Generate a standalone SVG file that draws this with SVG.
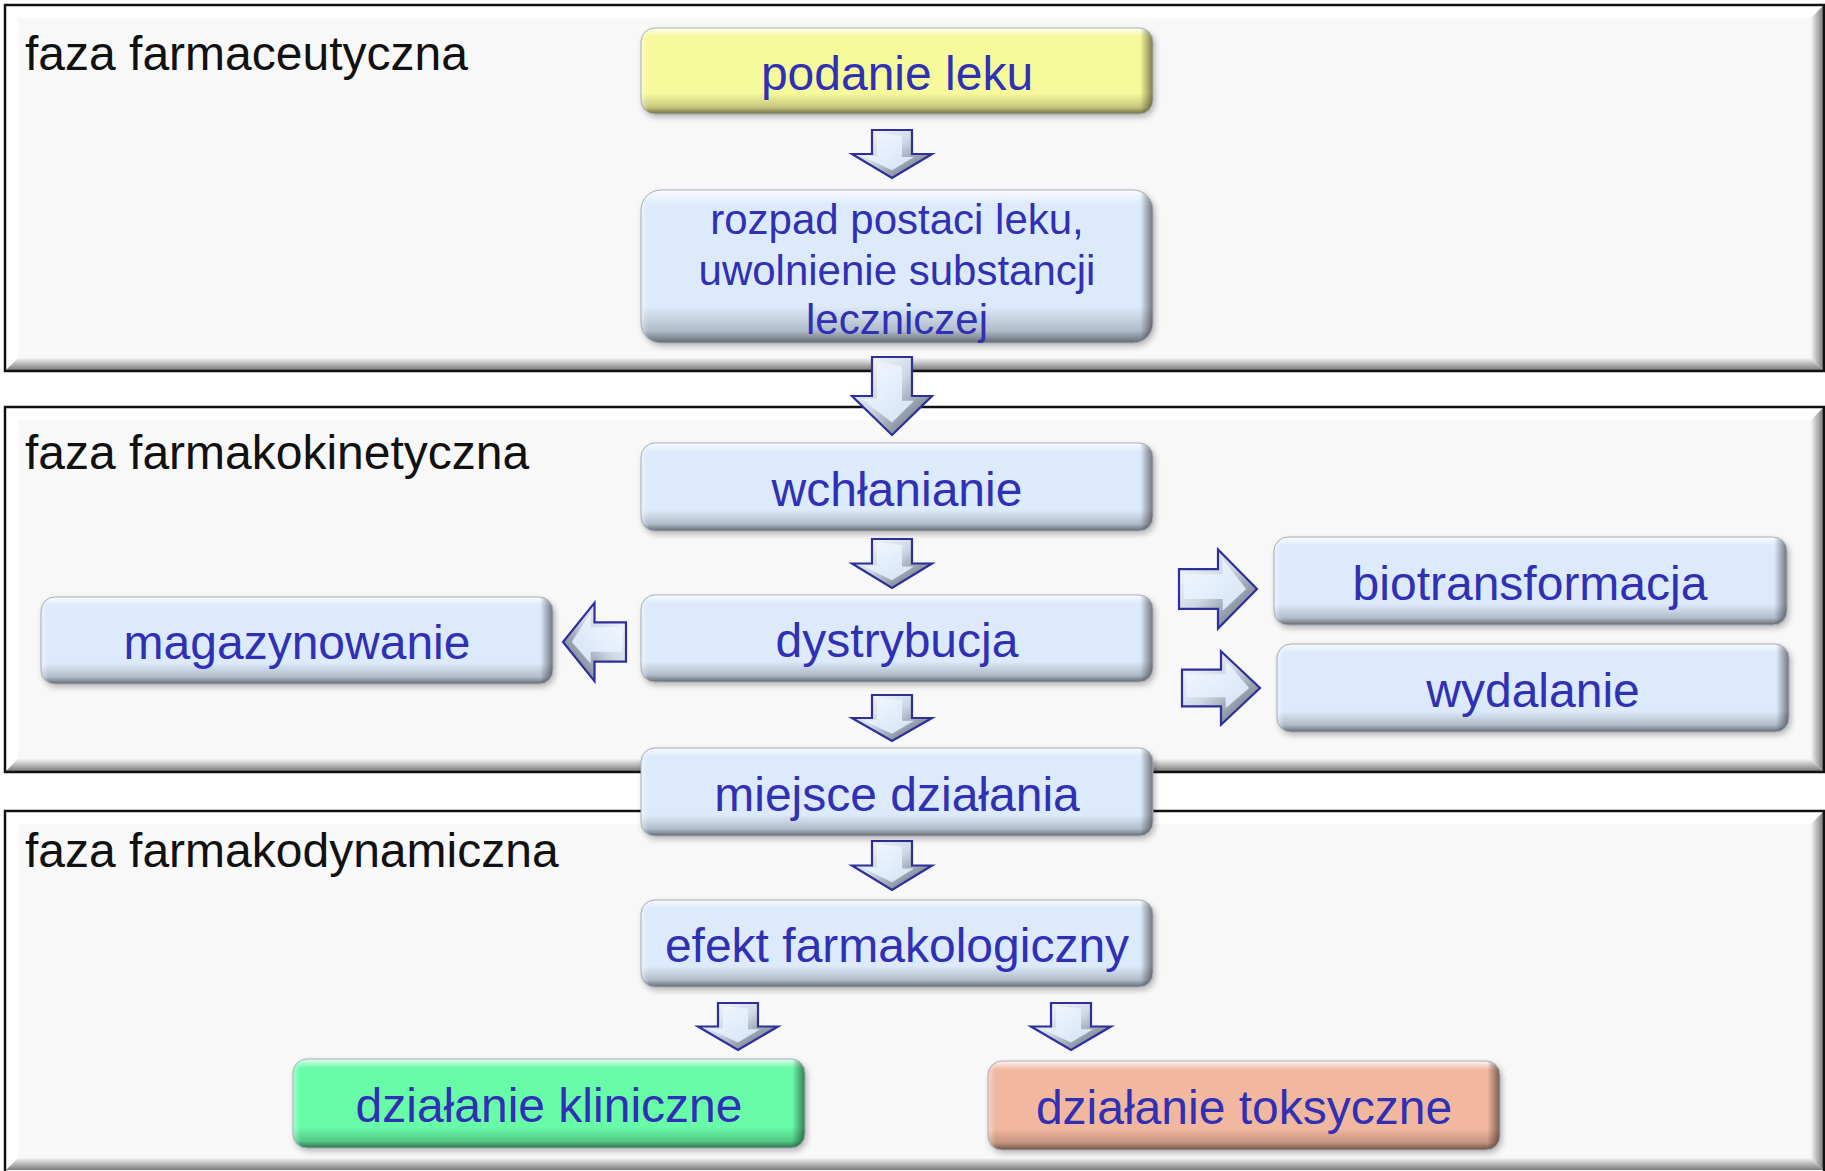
<svg xmlns="http://www.w3.org/2000/svg" width="1825" height="1171" viewBox="0 0 1825 1171">
<defs>
<style>
.lbl{font-family:"Liberation Sans",Arial,sans-serif;font-size:48px;fill:#111;}
.nt{font-family:"Liberation Sans",Arial,sans-serif;font-size:48px;fill:#3030b4;text-anchor:middle;}
.nt2{font-family:"Liberation Sans",Arial,sans-serif;font-size:42px;fill:#3030b4;text-anchor:middle;}
.pbg{fill:#f8f8f8;}
.pst{fill:none;stroke:#111;stroke-width:2.5;}
.ptop{fill:#ffffff;}
.pr{fill:url(#pR);}
.pb{fill:url(#pB);}
.base-blue{fill:#dceafb;}
.base-yel{fill:#f7f99d;}
.base-grn{fill:#68fca8;}
.base-sal{fill:#f2b79f;}
.sv{fill:url(#sV);}
.sh{fill:url(#sH);}
.nst{fill:none;stroke:#a9b0bb;stroke-width:1;}
.shadow{fill:#000;opacity:0.28;filter:url(#blur);}
.aout{fill:url(#aG);stroke:#2f2f9c;stroke-width:2.2;vector-effect:non-scaling-stroke;stroke-linejoin:miter;}
.ain{fill:url(#aI);}
</style>
<filter id="blur" x="-10%" y="-10%" width="120%" height="130%"><feGaussianBlur stdDeviation="3"/></filter>
<linearGradient id="pR" x1="0" y1="0" x2="1" y2="0"><stop offset="0" stop-color="#f4f4f4"/><stop offset="1" stop-color="#7c7c7c"/></linearGradient>
<linearGradient id="pB" x1="0" y1="0" x2="0" y2="1"><stop offset="0" stop-color="#f4f4f4"/><stop offset="1" stop-color="#7c7c7c"/></linearGradient>
<linearGradient id="sV" x1="0" y1="0" x2="0" y2="1">
<stop offset="0" stop-color="#fff" stop-opacity="0.85"/>
<stop offset="0.1" stop-color="#fff" stop-opacity="0"/>
<stop offset="0.76" stop-color="#000" stop-opacity="0"/>
<stop offset="0.92" stop-color="#000" stop-opacity="0.2"/>
<stop offset="1" stop-color="#000" stop-opacity="0.55"/>
</linearGradient>
<linearGradient id="sH" x1="0" y1="0" x2="1" y2="0">
<stop offset="0" stop-color="#fff" stop-opacity="0.4"/>
<stop offset="0.015" stop-color="#fff" stop-opacity="0"/>
<stop offset="0.975" stop-color="#000" stop-opacity="0"/>
<stop offset="1" stop-color="#000" stop-opacity="0.5"/>
</linearGradient>
<linearGradient id="aG" x1="0" y1="0" x2="1" y2="1">
<stop offset="0" stop-color="#ffffff"/>
<stop offset="0.45" stop-color="#cfd8e4"/>
<stop offset="1" stop-color="#4f5866"/>
</linearGradient>
<linearGradient id="aI" x1="0" y1="0" x2="1" y2="1">
<stop offset="0" stop-color="#f4f8fe"/>
<stop offset="1" stop-color="#d4e3f7"/>
</linearGradient>
<g id="arrD">
<path class="aout" d="M-20,0 L20,0 L20,50 L40,50 L0,100 L-40,50 L-20,50 Z"/>
<path class="ain" d="M-15,6 L10,12 L10,56 L22,56 L0,84 L-30,54 L-15,54 Z"/>
</g>
<g id="arrR">
<path class="aout" d="M0,-20 L0,20 L50,20 L50,40 L100,0 L50,-40 L50,-20 Z"/>
<path class="ain" d="M6,-15 L6,10 L56,10 L56,22 L86,0 L56,-30 L56,-15 Z"/>
</g>
</defs>

<g id="panel-farmaceutyczna">
<rect class="pbg" x="5" y="5" width="1819" height="366"/>
<polygon class="ptop" points="6,6 1823,6 1811,18 18,18"/>
<polygon class="ptop" points="6,6 18,18 18,358 6,370"/>
<polygon class="pr" points="1811,18 1823,6 1823,370 1811,358"/>
<polygon class="pb" points="18,358 1811,358 1823,370 6,370"/>
<rect class="pst" x="5" y="5" width="1819" height="366"/>
<text class="lbl" x="25" y="70">faza farmaceutyczna</text>
</g>
<g id="panel-farmakokinetyczna">
<rect class="pbg" x="5" y="407" width="1819" height="365"/>
<polygon class="ptop" points="6,408 1823,408 1811,420 18,420"/>
<polygon class="ptop" points="6,408 18,420 18,759 6,771"/>
<polygon class="pr" points="1811,420 1823,408 1823,771 1811,759"/>
<polygon class="pb" points="18,759 1811,759 1823,771 6,771"/>
<rect class="pst" x="5" y="407" width="1819" height="365"/>
<text class="lbl" x="25" y="469">faza farmakokinetyczna</text>
</g>
<g id="panel-farmakodynamiczna">
<rect class="pbg" x="5" y="811" width="1819" height="360"/>
<polygon class="ptop" points="6,812 1823,812 1811,824 18,824"/>
<polygon class="ptop" points="6,812 18,824 18,1158 6,1170"/>
<polygon class="pr" points="1811,824 1823,812 1823,1170 1811,1158"/>
<polygon class="pb" points="18,1158 1811,1158 1823,1170 6,1170"/>
<rect class="pst" x="5" y="811" width="1819" height="362"/>
<text class="lbl" x="25" y="867">faza farmakodynamiczna</text>
</g>

<g id="connectors">
<use href="#arrD" transform="translate(892,130) scale(1,0.48)"/>
<use href="#arrD" transform="translate(892,357) scale(1,0.78)"/>
<use href="#arrD" transform="translate(892,539) scale(1,0.49)"/>
<use href="#arrD" transform="translate(892,695) scale(1,0.46)"/>
<use href="#arrD" transform="translate(892,841) scale(1,0.49)"/>
<use href="#arrD" transform="translate(738,1003) scale(1,0.47)"/>
<use href="#arrD" transform="translate(1071,1003) scale(1,0.47)"/>
<use href="#arrR" transform="translate(626,642) scale(-0.63,0.98)"/>
<use href="#arrR" transform="translate(1179,589) scale(0.78,0.99)"/>
<use href="#arrR" transform="translate(1182,688) scale(0.78,0.92)"/>
</g>

<g id="node-podanie">
<rect class="shadow" x="643" y="31" width="512" height="86" rx="14"/>
<rect class="base-yel" x="641" y="28" width="512" height="86" rx="14"/>
<rect class="sv" x="641" y="28" width="512" height="86" rx="14"/>
<rect class="sh" x="641" y="28" width="512" height="86" rx="14"/>
<rect class="nst" x="641" y="28" width="512" height="86" rx="14"/>
<text class="nt" x="897" y="90">podanie leku</text>
</g>
<g id="node-rozpad">
<rect class="shadow" x="643" y="193" width="512" height="153" rx="20"/>
<rect class="base-blue" x="641" y="190" width="512" height="153" rx="20"/>
<rect class="sv" x="641" y="190" width="512" height="153" rx="20"/>
<rect class="sh" x="641" y="190" width="512" height="153" rx="20"/>
<rect class="nst" x="641" y="190" width="512" height="153" rx="20"/>
<text class="nt2" x="897" y="234">rozpad postaci leku,</text>
<text class="nt2" x="897" y="285">uwolnienie substancji</text>
<text class="nt2" x="897" y="334">leczniczej</text>
</g>
<g id="node-wchlanianie">
<rect class="shadow" x="643" y="446" width="512" height="88" rx="14"/>
<rect class="base-blue" x="641" y="443" width="512" height="88" rx="14"/>
<rect class="sv" x="641" y="443" width="512" height="88" rx="14"/>
<rect class="sh" x="641" y="443" width="512" height="88" rx="14"/>
<rect class="nst" x="641" y="443" width="512" height="88" rx="14"/>
<text class="nt" x="897" y="506">wchłanianie</text>
</g>
<g id="node-dystrybucja">
<rect class="shadow" x="643" y="598" width="512" height="87" rx="14"/>
<rect class="base-blue" x="641" y="595" width="512" height="87" rx="14"/>
<rect class="sv" x="641" y="595" width="512" height="87" rx="14"/>
<rect class="sh" x="641" y="595" width="512" height="87" rx="14"/>
<rect class="nst" x="641" y="595" width="512" height="87" rx="14"/>
<text class="nt" x="897" y="657">dystrybucja</text>
</g>
<g id="node-magazynowanie">
<rect class="shadow" x="43" y="600" width="512" height="87" rx="14"/>
<rect class="base-blue" x="41" y="597" width="512" height="87" rx="14"/>
<rect class="sv" x="41" y="597" width="512" height="87" rx="14"/>
<rect class="sh" x="41" y="597" width="512" height="87" rx="14"/>
<rect class="nst" x="41" y="597" width="512" height="87" rx="14"/>
<text class="nt" x="297" y="659">magazynowanie</text>
</g>
<g id="node-biotransformacja">
<rect class="shadow" x="1276" y="540" width="513" height="88" rx="14"/>
<rect class="base-blue" x="1274" y="537" width="513" height="88" rx="14"/>
<rect class="sv" x="1274" y="537" width="513" height="88" rx="14"/>
<rect class="sh" x="1274" y="537" width="513" height="88" rx="14"/>
<rect class="nst" x="1274" y="537" width="513" height="88" rx="14"/>
<text class="nt" x="1530" y="600">biotransformacja</text>
</g>
<g id="node-wydalanie">
<rect class="shadow" x="1279" y="647" width="512" height="88" rx="14"/>
<rect class="base-blue" x="1277" y="644" width="512" height="88" rx="14"/>
<rect class="sv" x="1277" y="644" width="512" height="88" rx="14"/>
<rect class="sh" x="1277" y="644" width="512" height="88" rx="14"/>
<rect class="nst" x="1277" y="644" width="512" height="88" rx="14"/>
<text class="nt" x="1533" y="707">wydalanie</text>
</g>
<g id="node-miejsce">
<rect class="shadow" x="643" y="751" width="512" height="88" rx="14"/>
<rect class="base-blue" x="641" y="748" width="512" height="88" rx="14"/>
<rect class="sv" x="641" y="748" width="512" height="88" rx="14"/>
<rect class="sh" x="641" y="748" width="512" height="88" rx="14"/>
<rect class="nst" x="641" y="748" width="512" height="88" rx="14"/>
<text class="nt" x="897" y="811">miejsce działania</text>
</g>
<g id="node-efekt">
<rect class="shadow" x="643" y="903" width="512" height="87" rx="14"/>
<rect class="base-blue" x="641" y="900" width="512" height="87" rx="14"/>
<rect class="sv" x="641" y="900" width="512" height="87" rx="14"/>
<rect class="sh" x="641" y="900" width="512" height="87" rx="14"/>
<rect class="nst" x="641" y="900" width="512" height="87" rx="14"/>
<text class="nt" x="897" y="962">efekt farmakologiczny</text>
</g>
<g id="node-kliniczne">
<rect class="shadow" x="295" y="1062" width="512" height="89" rx="14"/>
<rect class="base-grn" x="293" y="1059" width="512" height="89" rx="14"/>
<rect class="sv" x="293" y="1059" width="512" height="89" rx="14"/>
<rect class="sh" x="293" y="1059" width="512" height="89" rx="14"/>
<rect class="nst" x="293" y="1059" width="512" height="89" rx="14"/>
<text class="nt" x="549" y="1122">działanie kliniczne</text>
</g>
<g id="node-toksyczne">
<rect class="shadow" x="990" y="1064" width="512" height="89" rx="14"/>
<rect class="base-sal" x="988" y="1061" width="512" height="89" rx="14"/>
<rect class="sv" x="988" y="1061" width="512" height="89" rx="14"/>
<rect class="sh" x="988" y="1061" width="512" height="89" rx="14"/>
<rect class="nst" x="988" y="1061" width="512" height="89" rx="14"/>
<text class="nt" x="1244" y="1124">działanie toksyczne</text>
</g>
</svg>
